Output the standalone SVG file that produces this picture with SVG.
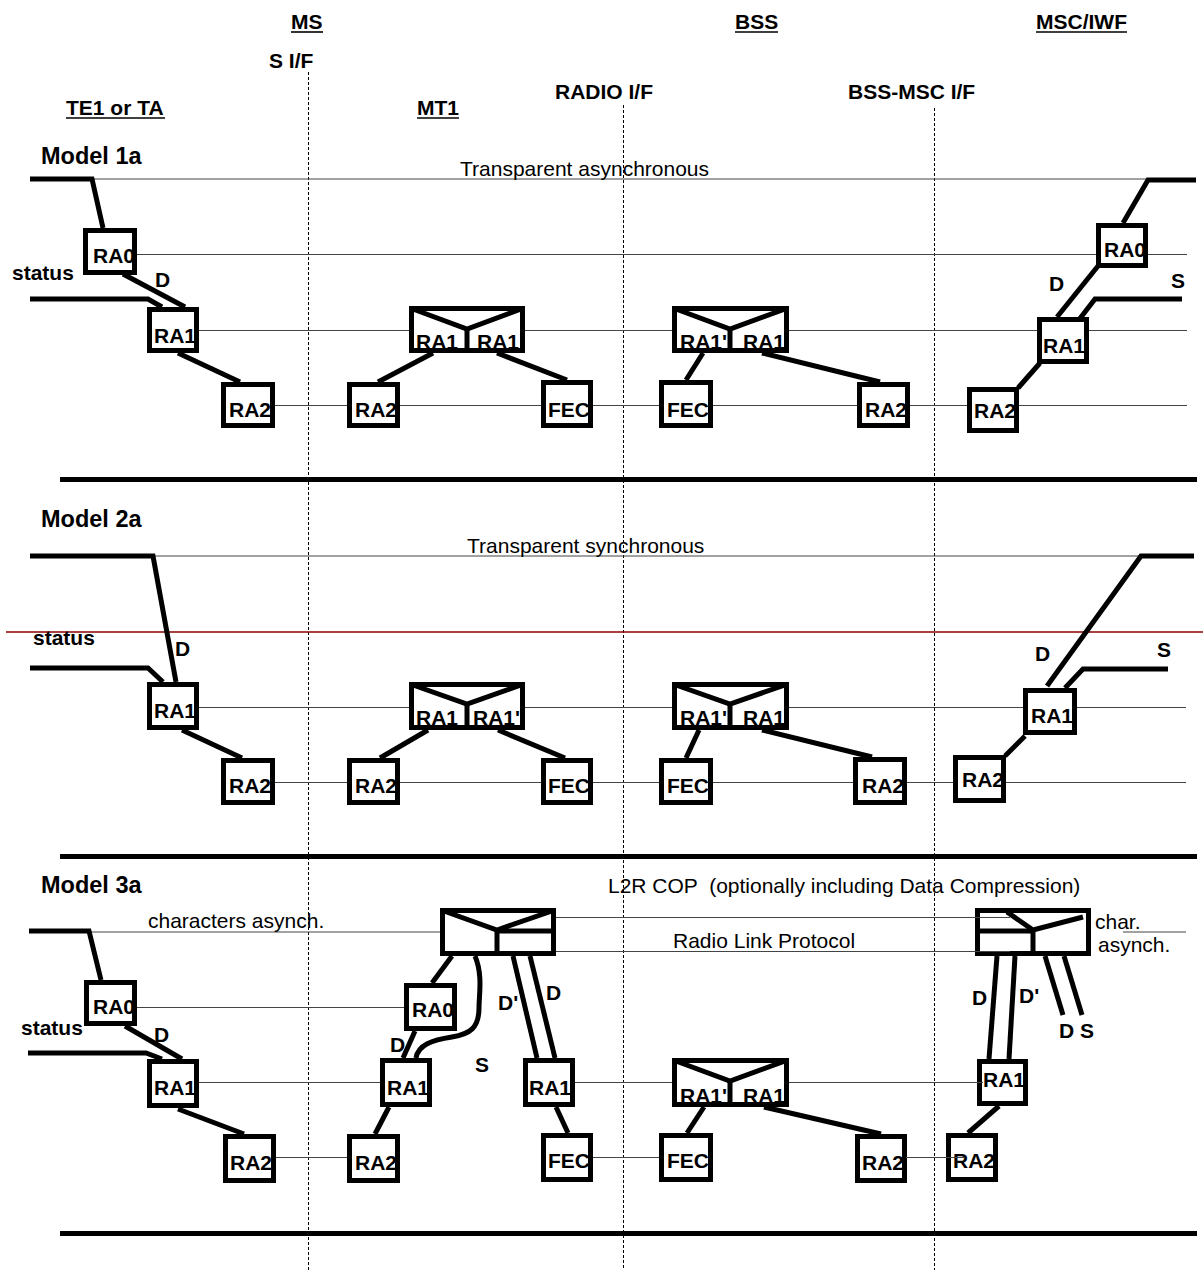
<svg xmlns="http://www.w3.org/2000/svg" width="1203" height="1277" viewBox="0 0 1203 1277">
<style>
.box{fill:#fff;stroke:#000;stroke-width:5}
.lbl{font-family:"Liberation Sans",Arial,sans-serif;font-weight:bold;font-size:21px;fill:#000}
.mdl{font-family:"Liberation Sans",Arial,sans-serif;font-weight:bold;font-size:23.5px;fill:#000}
.txt{font-family:"Liberation Sans",Arial,sans-serif;font-size:21px;fill:#000}
.thk{stroke:#000;stroke-width:5;fill:none;stroke-linejoin:miter}
.thin{stroke:#444;stroke-width:1;fill:none}
.dash{stroke:#000;stroke-width:1;stroke-dasharray:3 2}
.ul{stroke:#000;stroke-width:1.6}
.sep{stroke:#000;stroke-width:5}
</style>
<rect width="1203" height="1277" fill="#fff"/>
<g id="headers">
<text class="lbl" x="291" y="29">MS</text><line class="ul" x1="291" y1="32" x2="323" y2="32"/>
<text class="lbl" x="735" y="29">BSS</text><line class="ul" x1="735" y1="32" x2="778" y2="32"/>
<text class="lbl" x="1036" y="29">MSC/IWF</text><line class="ul" x1="1036" y1="32" x2="1127" y2="32"/>
<text class="lbl" x="269" y="68">S I/F</text>
<text class="lbl" x="555" y="99">RADIO I/F</text>
<text class="lbl" x="848" y="99">BSS-MSC I/F</text>
<text class="lbl" x="66" y="115">TE1 or TA</text><line class="ul" x1="66" y1="118" x2="165" y2="118"/>
<text class="lbl" x="417" y="115">MT1</text><line class="ul" x1="417" y1="118" x2="459" y2="118"/>
<text class="mdl" x="41" y="164">Model 1a</text>
<text class="mdl" x="41" y="527">Model 2a</text>
<text class="mdl" x="41" y="893">Model 3a</text>
</g>
<g id="interfaces">
<line class="dash" x1="308.5" y1="72" x2="308.5" y2="1270"/>
<line class="dash" x1="623.5" y1="105" x2="623.5" y2="1270"/>
<line class="dash" x1="934.5" y1="108" x2="934.5" y2="1270"/>
<line class="sep" x1="60" y1="479.5" x2="1197" y2="479.5"/>
<line class="sep" x1="60" y1="856.5" x2="1197" y2="856.5"/>
<line class="sep" x1="60" y1="1233.5" x2="1197" y2="1233.5"/>
<line x1="6" y1="632" x2="1203" y2="632" stroke="#8b0000" stroke-width="1.5"/>
</g>
<g id="connectors">
<line class="thin" x1="92" y1="179" x2="1147" y2="179"/>
<line class="thin" x1="137" y1="254.5" x2="1187" y2="254.5"/>
<line class="thin" x1="199" y1="330.5" x2="1187" y2="330.5"/>
<line class="thin" x1="275" y1="405.5" x2="1187" y2="405.5"/>
<line class="thin" x1="153" y1="556" x2="1141" y2="556"/>
<line class="thin" x1="199" y1="707.5" x2="1186" y2="707.5"/>
<line class="thin" x1="275" y1="782.5" x2="1186" y2="782.5"/>
<line class="thin" x1="89" y1="932" x2="440" y2="932"/>
<line class="thin" x1="137" y1="1007.5" x2="404" y2="1007.5"/>
<line class="thin" x1="199" y1="1082.5" x2="380" y2="1082.5"/>
<line class="thin" x1="575" y1="1082.5" x2="672" y2="1082.5"/>
<line class="thin" x1="276" y1="1157.5" x2="347" y2="1157.5"/>
<line class="thin" x1="593" y1="1157.5" x2="659" y2="1157.5"/>
<line class="thin" x1="1123" y1="932" x2="1186" y2="932"/>
<polyline class="thk" points="30,179 92,179 103,228"/>
<polyline class="thk" points="30,299 148,299 162,307"/>
<line class="thk" x1="123" y1="274" x2="185" y2="307"/>
<line class="thk" x1="178" y1="353" x2="240" y2="382"/>
<line class="thk" x1="378" y1="382" x2="433" y2="353"/>
<line class="thk" x1="497" y1="353" x2="567" y2="380"/>
<line class="thk" x1="703" y1="353" x2="686" y2="380"/>
<line class="thk" x1="762" y1="353" x2="880" y2="382"/>
<line class="thk" x1="1018" y1="388" x2="1040" y2="363"/>
<line class="thk" x1="1057" y1="317" x2="1098" y2="266"/>
<polyline class="thk" points="1078,321 1095,299 1182,299"/>
<polyline class="thk" points="1123,223 1148,180 1196,180"/>
<polyline class="thk" points="30,556 153,556 176,682"/>
<polyline class="thk" points="30,668 148,668 163,682"/>
<line class="thk" x1="182" y1="730" x2="242" y2="758"/>
<line class="thk" x1="380" y1="758" x2="428" y2="730"/>
<line class="thk" x1="498" y1="730" x2="565" y2="758"/>
<line class="thk" x1="699" y1="730" x2="686" y2="758"/>
<line class="thk" x1="762" y1="730" x2="872" y2="757"/>
<line class="thk" x1="1005" y1="756" x2="1025" y2="736"/>
<polyline class="thk" points="1047,686 1141,556 1194,556"/>
<polyline class="thk" points="1065,688 1083,669 1168,669"/>
<polyline class="thk" points="29,931 89,931 101,980"/>
<polyline class="thk" points="28,1053 146,1053 162,1059"/>
<line class="thk" x1="125" y1="1026" x2="182" y2="1059"/>
<line class="thk" x1="178" y1="1109" x2="244" y2="1134"/>
<line class="thk" x1="452" y1="956" x2="432" y2="983"/>
<path class="thk" d="M475,956 C483,975 479,995 479,1008 C479,1028 470,1034 452,1037 C432,1040 418,1045 416,1058"/>
<line class="thk" x1="415" y1="1031" x2="403" y2="1058"/>
<line class="thk" x1="389" y1="1107" x2="375" y2="1134"/>
<line class="thk" x1="513" y1="956" x2="537" y2="1058"/>
<line class="thk" x1="530" y1="956" x2="555" y2="1058"/>
<line class="thk" x1="556" y1="1107" x2="568" y2="1133"/>
<line class="thk" x1="704" y1="1107" x2="687" y2="1133"/>
<line class="thk" x1="764" y1="1107" x2="881" y2="1134"/>
<line class="thk" x1="997" y1="956" x2="989" y2="1059"/>
<line class="thk" x1="1015" y1="956" x2="1009" y2="1059"/>
<line class="thk" x1="1045" y1="956" x2="1063" y2="1015"/>
<line class="thk" x1="1064" y1="956" x2="1082" y2="1015"/>
<line class="thk" x1="999" y1="1106" x2="968" y2="1133"/>
</g>
<g id="m1_ra0L"><rect class="box" x="85.5" y="230.5" width="49" height="42"/><text class="lbl" x="93" y="263">RA0</text></g>
<g id="m1_ra1L"><rect class="box" x="149.5" y="309.5" width="47" height="41"/><text class="lbl" x="154" y="343">RA1</text></g>
<g id="m1_ra2L"><rect class="box" x="223.5" y="384.5" width="49" height="41"/><text class="lbl" x="229" y="417">RA2</text></g>
<g id="m1_ra2MS"><rect class="box" x="349.5" y="384.5" width="48" height="41"/><text class="lbl" x="355" y="417">RA2</text></g>
<g id="m1_mt"><rect class="box" x="411.5" y="308.5" width="111" height="42"/><polyline class="thk" points="411.5,308.5 467,329 522.5,308.5"/><line class="thk" x1="467" y1="329" x2="467" y2="353"/><text class="lbl" x="416" y="349">RA1</text><text class="lbl" x="477" y="349">RA1</text></g>
<g id="m1_fec1"><rect class="box" x="543.5" y="382.5" width="47" height="43"/><text class="lbl" x="548" y="417">FEC</text></g>
<g id="m1_fec2"><rect class="box" x="661.5" y="382.5" width="49" height="43"/><text class="lbl" x="667" y="417">FEC</text></g>
<g id="m1_bss"><rect class="box" x="674.5" y="308.5" width="112" height="42"/><polyline class="thk" points="674.5,308.5 730,329 786.5,308.5"/><line class="thk" x1="730" y1="329" x2="730" y2="353"/><text class="lbl" x="680" y="349">RA1'</text><text class="lbl" x="743" y="349">RA1</text></g>
<g id="m1_ra2B"><rect class="box" x="859.5" y="384.5" width="48" height="41"/><text class="lbl" x="865" y="417">RA2</text></g>
<g id="m1_ra2M"><rect class="box" x="969.5" y="389.5" width="47" height="41"/><text class="lbl" x="974" y="418">RA2</text></g>
<g id="m1_ra1M"><rect class="box" x="1039.5" y="319.5" width="47" height="42"/><text class="lbl" x="1043" y="353">RA1</text></g>
<g id="m1_ra0M"><rect class="box" x="1098.5" y="225.5" width="47" height="40"/><text class="lbl" x="1104" y="257">RA0</text></g>
<g id="m2_ra1L"><rect class="box" x="149.5" y="684.5" width="47" height="43"/><text class="lbl" x="154" y="718">RA1</text></g>
<g id="m2_ra2L"><rect class="box" x="223.5" y="760.5" width="49" height="42"/><text class="lbl" x="229" y="793">RA2</text></g>
<g id="m2_ra2MS"><rect class="box" x="349.5" y="760.5" width="48" height="42"/><text class="lbl" x="355" y="793">RA2</text></g>
<g id="m2_mt"><rect class="box" x="411.5" y="684.5" width="111" height="43"/><polyline class="thk" points="411.5,684.5 467,704 522.5,684.5"/><line class="thk" x1="467" y1="704" x2="467" y2="730"/><text class="lbl" x="416" y="725">RA1</text><text class="lbl" x="473" y="725">RA1'</text></g>
<g id="m2_fec1"><rect class="box" x="543.5" y="760.5" width="47" height="42"/><text class="lbl" x="548" y="793">FEC</text></g>
<g id="m2_fec2"><rect class="box" x="661.5" y="760.5" width="49" height="42"/><text class="lbl" x="667" y="793">FEC</text></g>
<g id="m2_bss"><rect class="box" x="674.5" y="684.5" width="112" height="43"/><polyline class="thk" points="674.5,684.5 730,704 786.5,684.5"/><line class="thk" x1="730" y1="704" x2="730" y2="730"/><text class="lbl" x="680" y="725">RA1'</text><text class="lbl" x="743" y="725">RA1</text></g>
<g id="m2_ra2B"><rect class="box" x="855.5" y="759.5" width="49" height="43"/><text class="lbl" x="862" y="793">RA2</text></g>
<g id="m2_ra2M"><rect class="box" x="955.5" y="757.5" width="48" height="43"/><text class="lbl" x="962" y="787">RA2</text></g>
<g id="m2_ra1M"><rect class="box" x="1025.5" y="690.5" width="49" height="42"/><text class="lbl" x="1031" y="723">RA1</text></g>
<g id="m3_ra0L"><rect class="box" x="86.5" y="982.5" width="48" height="41"/><text class="lbl" x="93" y="1014">RA0</text></g>
<g id="m3_ra1L"><rect class="box" x="149.5" y="1061.5" width="47" height="44"/><text class="lbl" x="154" y="1095">RA1</text></g>
<g id="m3_ra2L"><rect class="box" x="225.5" y="1136.5" width="48" height="44"/><text class="lbl" x="230" y="1170">RA2</text></g>
<g id="m3_ra2MT"><rect class="box" x="349.5" y="1136.5" width="48" height="44"/><text class="lbl" x="355" y="1170">RA2</text></g>
<g id="m3_ra1MT"><rect class="box" x="382.5" y="1060.5" width="47" height="44"/><text class="lbl" x="387" y="1095">RA1</text></g>
<g id="m3_ra0MT"><rect class="box" x="406.5" y="985.5" width="48" height="43"/><text class="lbl" x="412" y="1017">RA0</text></g>
<g id="m3_mtL2R"><rect class="box" x="442.5" y="910.5" width="111" height="43"/><polyline class="thk" points="442.5,910.5 497,930 553.5,910.5"/><line class="thk" x1="497" y1="931" x2="553.5" y2="931"/><line class="thk" x1="497" y1="929" x2="497" y2="956"/></g>
<g id="m3_ra1B"><rect class="box" x="525.5" y="1060.5" width="47" height="44"/><text class="lbl" x="529" y="1095">RA1</text></g>
<g id="m3_fec1"><rect class="box" x="543.5" y="1135.5" width="47" height="44"/><text class="lbl" x="548" y="1168">FEC</text></g>
<g id="m3_fec2"><rect class="box" x="661.5" y="1135.5" width="49" height="44"/><text class="lbl" x="667" y="1168">FEC</text></g>
<g id="m3_bss"><rect class="box" x="674.5" y="1060.5" width="112" height="44"/><polyline class="thk" points="674.5,1060.5 730,1081 786.5,1060.5"/><line class="thk" x1="730" y1="1081" x2="730" y2="1107"/><text class="lbl" x="680" y="1103">RA1'</text><text class="lbl" x="743" y="1103">RA1</text></g>
<g id="m3_ra2B"><rect class="box" x="857.5" y="1136.5" width="47" height="44"/><text class="lbl" x="862" y="1170">RA2</text></g>
<g id="m3_ra2M"><rect class="box" x="948.5" y="1135.5" width="47" height="44"/><text class="lbl" x="953" y="1168">RA2</text></g>
<g id="m3_ra1M"><rect class="box" x="979.5" y="1061.5" width="46" height="42"/><text class="lbl" x="983" y="1087">RA1</text></g>
<g id="m3_mscL2R"><rect class="box" x="977.5" y="910.5" width="111" height="43"/><polyline class="thk" points="1007,912 1033,930 1083,917"/><line class="thk" x1="977.5" y1="931" x2="1033" y2="931"/><line class="thk" x1="1033" y1="929" x2="1033" y2="956"/></g>
<g id="overlay-lines">
<line class="thin" x1="556" y1="917.5" x2="1010" y2="917.5"/>
<line class="thin" x1="556" y1="951.5" x2="1010" y2="951.5"/>
<line class="thin" x1="789" y1="1082.5" x2="983" y2="1082.5"/>
<line class="thin" x1="906" y1="1157.5" x2="965" y2="1157.5"/>
</g>
<g id="labels">
<text class="txt" x="460" y="176">Transparent asynchronous</text>
<text class="lbl" x="12" y="280">status</text>
<text class="lbl" x="155" y="287">D</text>
<text class="lbl" x="1049" y="291">D</text>
<text class="lbl" x="1171" y="288">S</text>
<text class="txt" x="467" y="553">Transparent synchronous</text>
<text class="lbl" x="33" y="645">status</text>
<text class="lbl" x="175" y="656">D</text>
<text class="lbl" x="1035" y="661">D</text>
<text class="lbl" x="1157" y="657">S</text>
<text class="txt" x="148" y="928">characters asynch.</text>
<text class="txt" x="608" y="893" xml:space="preserve">L2R COP  (optionally including Data Compression)</text>
<text class="txt" x="673" y="948">Radio Link Protocol</text>
<text class="txt" x="1095" y="929">char.</text>
<text class="txt" x="1098" y="952">asynch.</text>
<text class="lbl" x="21" y="1035">status</text>
<text class="lbl" x="154" y="1042">D</text>
<text class="lbl" x="390" y="1052">D</text>
<text class="lbl" x="475" y="1072">S</text>
<text class="lbl" x="498" y="1010">D'</text>
<text class="lbl" x="546" y="1000">D</text>
<text class="lbl" x="972" y="1005">D</text>
<text class="lbl" x="1019" y="1003">D'</text>
<text class="lbl" x="1059" y="1038">D S</text>
</g>
</svg>
